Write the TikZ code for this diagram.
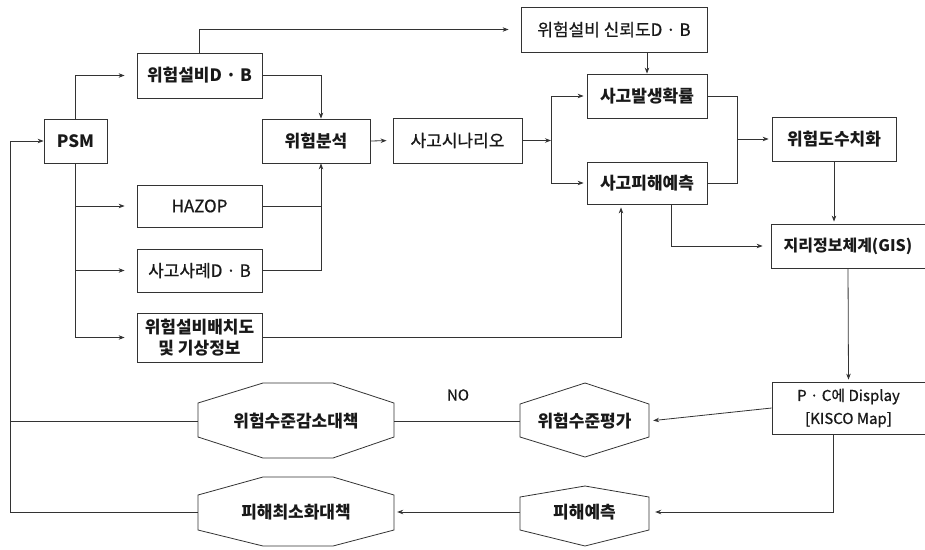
\documentclass[tikz,border=0pt]{standalone}
\usepackage{fontspec}
\setmainfont{Noto Sans CJK KR}
\newfontfamily\medfont{Noto Sans CJK KR}[FakeBold=0.7]
\usetikzlibrary{arrows.meta,calc}
\begin{document}
\begin{tikzpicture}[x=1pt,y=-1pt,
  every node/.style={font=\fontsize{17}{20}\selectfont\bfseries, text=black!90},
  reg/.style={font=\fontsize{17}{20}\selectfont\medfont},
  box/.style={draw=black!80, line width=0.8pt, rectangle, inner sep=0pt, align=center},
  shp/.style={draw=black!80, line width=0.8pt},
  ln/.style={line width=0.8pt, draw=black!80},
  arr/.style={ln, -{Stealth[length=6pt,width=4.5pt]}}
]
\useasboundingbox (0,0) rectangle (925,549);

% boxes
\node[box, minimum width=63pt, minimum height=44pt] (psm) at (75.5,141) {PSM};
\node[box, minimum width=125pt, minimum height=45pt] (db) at (199.5,75.5) {위험설비D · B};
\node[box, reg, minimum width=186pt, minimum height=45pt] (rel) at (614,29.5) {위험설비 신뢰도D · B};
\node[box, minimum width=108pt, minimum height=44pt] (anal) at (316,141) {위험분석};
\node[box, reg, minimum width=129pt, minimum height=45pt] (scen) at (457.5,140.5) {사고시나리오};
\node[box, minimum width=120pt, minimum height=44pt] (prob) at (647,96) {사고발생확률};
\node[box, minimum width=120pt, minimum height=42pt] (dmg) at (647,183) {사고피해예측};
\node[box, minimum width=124pt, minimum height=44pt] (risk) at (834,139) {위험도수치화};
\node[box, minimum width=154pt, minimum height=44pt, font=\fontsize{16}{19}\selectfont\bfseries] (gis) at (848,246) {지리정보체계(GIS)};
\node[box, reg, minimum width=125pt, minimum height=42pt] (hazop) at (199.5,206) {HAZOP};
\node[box, reg, minimum width=125pt, minimum height=43pt] (case) at (199.5,270.5) {사고사례D · B};
\node[box, minimum width=125pt, minimum height=49pt, font=\fontsize{17}{21}\selectfont\bfseries] (lay) at (199.5,337.5) {위험설비배치도\\및 기상정보};
\node[box, minimum width=153pt, minimum height=52pt, font=\fontsize{15}{23}\selectfont\medfont] (pc) at (848.5,408) {P · C에 Display\\{[}KISCO Map{]}};

% octagons and hexagons
\draw[shp] (263,383) -- (333,383) -- (394,403) -- (394,437) -- (333,458) -- (263,458) -- (198,437) -- (198,403) -- cycle;
\node[minimum width=196pt, minimum height=34pt, inner sep=0pt] (hred) at (296,421) {위험수준감소대책};
\draw[shp] (263,477) -- (333,477) -- (394,495) -- (394,530) -- (333,546) -- (263,546) -- (198,530) -- (198,495) -- cycle;
\node[minimum width=196pt, minimum height=34pt, inner sep=0pt] (dmin) at (296,512) {피해최소화대책};
\draw[shp] (585,383) -- (649,404) -- (649,437) -- (585,457) -- (520,437) -- (520,404) -- cycle;
\node[minimum width=129pt, minimum height=33pt, inner sep=0pt] (hr) at (584.5,421) {위험수준평가};
\draw[shp] (585,486) -- (649,497) -- (649,530) -- (585,546) -- (520,530) -- (520,497) -- cycle;
\node[minimum width=129pt, minimum height=33pt, inner sep=0pt] (dp) at (584.5,512) {피해예측};

\node[font=\fontsize{15}{18}\selectfont\medfont] (no) at (458,395) {NO};

% helper coordinates
\coordinate (aN) at ($(anal.north)+(5,0)$);
\coordinate (aS) at ($(anal.south)+(5,0)$);
\coordinate (sp) at (551,140.5);
\coordinate (pr) at (737,139);
\coordinate (dS) at ($(dmg.south)+(-26,0)$);
\coordinate (dS2) at ($(dmg.south)+(24,0)$);
\coordinate (pS) at ($(pc.south)+(-15,0)$);
\coordinate (lb) at (10,512);

% connectors
\draw[arr, shorten >=12pt] (psm.north) |- (db.west);
\draw[arr, shorten >=12pt] (psm.south) |- (hazop.west);
\draw[arr, shorten >=12pt] (psm.south) |- (case.west);
\draw[arr, shorten >=12pt] (psm.south) |- (lay.west);
\draw[arr, shorten >=12pt] (db.north) |- (rel.west);
\draw[arr] (db.east) -| (aN);
\draw[ln] (hazop.east) -- (hazop.east -| aS);
\draw[arr] (case.east) -| (aS);
\draw[arr, shorten >=6pt] (anal.east) -- (scen.west);
\draw[arr] (scen.east) -- (sp);
\draw[arr, shorten >=3pt] (sp) |- (prob.west);
\draw[arr, shorten >=3pt] (sp) |- (dmg.west);
\draw[arr] (rel.south -| prob.north) -- (prob.north);
\draw[ln] (prob.east) -| (pr);
\draw[ln] (dmg.east) -| (pr);
\draw[arr, shorten >=3pt] (pr) -- (risk.west);
\draw[arr, shorten >=2pt] (risk.south) -- (risk.south |- gis.north);
\draw[arr, shorten >=8pt] (dS2) |- (gis.west);
\draw[arr, shorten >=3pt] (lay.east) -| (dS);
\draw[arr, shorten >=2pt] (gis.south) -- (pc.north);
\draw[arr, shorten >=4pt] (pc.west) -- (hr.east);
\draw[arr, shorten >=6pt] (pS) |- (dp.east);
\draw[ln] (hr.west) -- (hred.east);
\draw[arr, shorten >=3pt] (dp.west) -- (dmin.east);
\draw[ln] (hred.west) -- (hred.west -| lb);
\draw[arr] (dmin.west) -- (lb) |- (psm.west);
\end{tikzpicture}
\end{document}
